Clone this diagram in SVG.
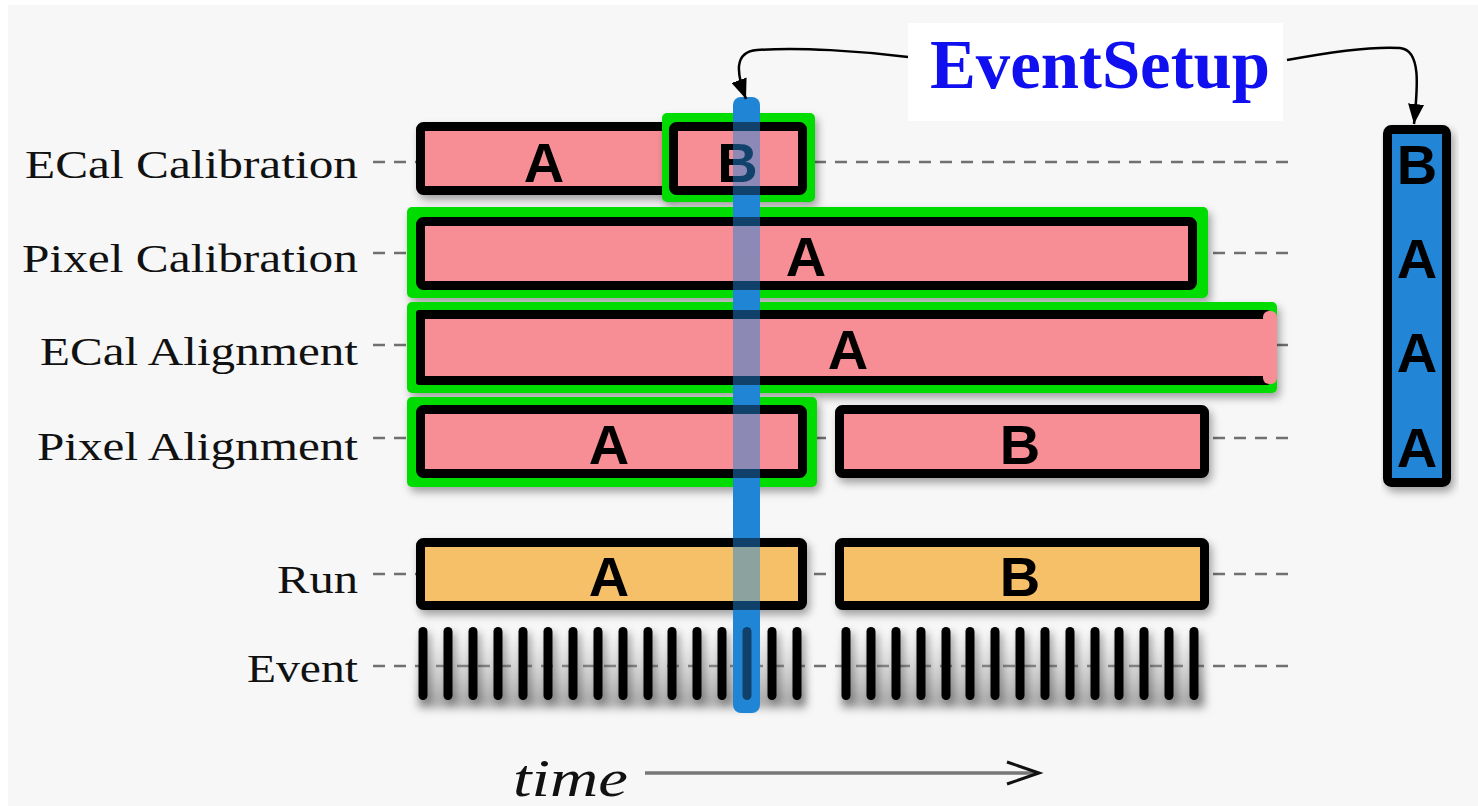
<svg xmlns="http://www.w3.org/2000/svg" xmlns:xlink="http://www.w3.org/1999/xlink" width="1478" height="806" viewBox="0 0 1478 806">
<style>
.lbl{font-family:"Liberation Serif","Times New Roman",serif;font-size:41px;fill:#111;text-anchor:end}
.let{font-family:"Liberation Sans",Arial,sans-serif;font-weight:bold;font-size:56px;fill:#000;text-anchor:middle}
.box{stroke:#000;stroke-width:9}
.pink{fill:#f78e96}
.orange{fill:#f6c069}
.green{fill:#00dc00}
.dash{stroke:#707070;stroke-width:2.5;stroke-dasharray:12 9;fill:none}
.tick{fill:#000}
.arrow{fill:none;stroke:#000;stroke-width:2.5}
</style>
<defs>
<filter id="sh" x="-10%" y="-20%" width="130%" height="160%">
<feDropShadow dx="3" dy="5" stdDeviation="4" flood-color="#000" flood-opacity="0.35"/>
</filter>
<filter id="blur" x="-10%" y="-30%" width="120%" height="160%">
<feGaussianBlur stdDeviation="5"/>
</filter>
<linearGradient id="tickShade" x1="0" y1="0" x2="0" y2="1">
<stop offset="0" stop-color="#b0b0b0" stop-opacity="0"/>
<stop offset="1" stop-color="#9a9a9a" stop-opacity="0.9"/>
</linearGradient>
<clipPath id="barClip"><rect x="733" y="97" width="27" height="616" rx="8"/></clipPath>
<marker id="ah" viewBox="0 0 20 16" refX="20" refY="8" markerUnits="userSpaceOnUse" markerWidth="20" markerHeight="16" orient="auto">
<path d="M0,0 L20,8 L0,16 z" fill="#000"/>
</marker>
</defs>

<rect x="0" y="0" width="1478" height="806" fill="#ffffff"/>
<rect x="8" y="5" width="1470" height="801" fill="#f7f7f7"/>

<g id="guides">
<line class="dash" x1="373" y1="162" x2="1295" y2="162"/>
<line class="dash" x1="373" y1="253" x2="1295" y2="253"/>
<line class="dash" x1="373" y1="345" x2="1293" y2="345"/>
<line class="dash" x1="373" y1="438" x2="1295" y2="438"/>
<line class="dash" x1="373" y1="574" x2="1295" y2="574"/>
<line class="dash" x1="373" y1="666" x2="1295" y2="666"/>
</g>

<g id="labels">
<text class="lbl" x="358" y="178" textLength="333" lengthAdjust="spacingAndGlyphs">ECal Calibration</text>
<text class="lbl" x="358" y="272" textLength="336" lengthAdjust="spacingAndGlyphs">Pixel Calibration</text>
<text class="lbl" x="358" y="365" textLength="318" lengthAdjust="spacingAndGlyphs">ECal Alignment</text>
<text class="lbl" x="358" y="460" textLength="321" lengthAdjust="spacingAndGlyphs">Pixel Alignment</text>
<text class="lbl" x="358" y="593" textLength="81" lengthAdjust="spacingAndGlyphs">Run</text>
<text class="lbl" x="358" y="682" textLength="111" lengthAdjust="spacingAndGlyphs">Event</text>
</g>

<g id="ecal-calib-A" filter="url(#sh)">
<g id="ecA-box"><rect class="box pink" x="420.5" y="126.5" width="250" height="64" rx="3"/>
<text class="let" x="544" y="182">A</text></g>
</g>
<g id="ecal-calib-B" filter="url(#sh)">
<rect class="green" x="662" y="113" width="153" height="89" rx="5"/>
<g id="ecB-box"><rect class="box pink" x="673.5" y="126.5" width="129" height="64" rx="3"/>
<text class="let" x="737.5" y="182">B</text></g>
</g>
<g id="pixel-calib-A" filter="url(#sh)">
<rect class="green" x="407" y="207" width="801" height="91" rx="5"/>
<g id="pcA-box"><rect class="box pink" x="420.5" y="221.5" width="772" height="64" rx="3"/>
<text class="let" x="806" y="276">A</text></g>
</g>
<g id="ecal-align-A" filter="url(#sh)">
<rect class="green" x="407" y="302" width="870" height="91" rx="5"/>
<g id="eaA-box"><rect x="416" y="310" width="854" height="75" rx="3" fill="#000"/>
<rect class="pink" x="425" y="319" width="846" height="57"/>
<rect class="pink" x="1263" y="311" width="14" height="73" rx="6"/>
<text class="let" x="848" y="369">A</text></g>
</g>
<g id="pixel-align-A" filter="url(#sh)">
<rect class="green" x="407" y="397" width="410" height="90" rx="5"/>
<g id="paA-box"><rect class="box pink" x="420.5" y="409.5" width="382" height="64" rx="3"/>
<text class="let" x="609" y="464">A</text></g>
</g>
<g id="pixel-align-B" filter="url(#sh)">
<rect class="box pink" x="839.5" y="409.5" width="365" height="64" rx="3"/>
<text class="let" x="1020" y="464">B</text>
</g>
<g id="run-A" filter="url(#sh)">
<g id="runA-box"><rect class="box orange" x="420.5" y="542.5" width="382" height="63" rx="3"/>
<text class="let" x="609" y="596">A</text></g>
</g>
<g id="run-B" filter="url(#sh)">
<rect class="box orange" x="839.5" y="542.5" width="365" height="63" rx="3"/>
<text class="let" x="1020" y="596">B</text>
</g>

<g id="event-shade" filter="url(#blur)">
<rect x="418" y="636" width="388" height="72" fill="url(#tickShade)"/>
<rect x="841" y="636" width="364" height="72" fill="url(#tickShade)"/>
</g>
<g id="events" filter="url(#sh)">
<rect class="tick" x="418.5" y="627" width="9" height="73" rx="4.5"/>
<rect class="tick" x="443.5" y="627" width="9" height="73" rx="4.5"/>
<rect class="tick" x="468.5" y="627" width="9" height="73" rx="4.5"/>
<rect class="tick" x="493.5" y="627" width="9" height="73" rx="4.5"/>
<rect class="tick" x="518.5" y="627" width="9" height="73" rx="4.5"/>
<rect class="tick" x="543.5" y="627" width="9" height="73" rx="4.5"/>
<rect class="tick" x="568.5" y="627" width="9" height="73" rx="4.5"/>
<rect class="tick" x="593.5" y="627" width="9" height="73" rx="4.5"/>
<rect class="tick" x="618.5" y="627" width="9" height="73" rx="4.5"/>
<rect class="tick" x="643.5" y="627" width="9" height="73" rx="4.5"/>
<rect class="tick" x="667.5" y="627" width="9" height="73" rx="4.5"/>
<rect class="tick" x="692.5" y="627" width="9" height="73" rx="4.5"/>
<rect class="tick" x="717.5" y="627" width="9" height="73" rx="4.5"/>
<rect id="tick-cur" class="tick" x="742.5" y="627" width="9" height="73" rx="4.5"/>
<rect class="tick" x="767.5" y="627" width="9" height="73" rx="4.5"/>
<rect class="tick" x="792.5" y="627" width="9" height="73" rx="4.5"/>
<rect class="tick" x="841.5" y="627" width="9" height="73" rx="4.5"/>
<rect class="tick" x="866.5" y="627" width="9" height="73" rx="4.5"/>
<rect class="tick" x="891.5" y="627" width="9" height="73" rx="4.5"/>
<rect class="tick" x="916.5" y="627" width="9" height="73" rx="4.5"/>
<rect class="tick" x="941.5" y="627" width="9" height="73" rx="4.5"/>
<rect class="tick" x="965.5" y="627" width="9" height="73" rx="4.5"/>
<rect class="tick" x="990.5" y="627" width="9" height="73" rx="4.5"/>
<rect class="tick" x="1015.5" y="627" width="9" height="73" rx="4.5"/>
<rect class="tick" x="1040.5" y="627" width="9" height="73" rx="4.5"/>
<rect class="tick" x="1065.5" y="627" width="9" height="73" rx="4.5"/>
<rect class="tick" x="1090.5" y="627" width="9" height="73" rx="4.5"/>
<rect class="tick" x="1114.5" y="627" width="9" height="73" rx="4.5"/>
<rect class="tick" x="1139.5" y="627" width="9" height="73" rx="4.5"/>
<rect class="tick" x="1164.5" y="627" width="9" height="73" rx="4.5"/>
<rect class="tick" x="1189.5" y="627" width="9" height="73" rx="4.5"/>
</g>

<g id="current-time">
<rect x="733" y="97" width="27" height="616" rx="8" fill="#2185d6"/>
<g clip-path="url(#barClip)" opacity="0.5">
<use xlink:href="#ecB-box"/>
<use xlink:href="#pcA-box"/>
<use xlink:href="#eaA-box"/>
<use xlink:href="#paA-box"/>
<use xlink:href="#runA-box"/>
<use xlink:href="#tick-cur"/>
</g>
</g>

<g id="eventsetup">
<rect x="908" y="23" width="375" height="98" fill="#ffffff"/>
<text x="930" y="88" textLength="340" lengthAdjust="spacingAndGlyphs" style="font-family:'Liberation Serif','Times New Roman',serif;font-weight:bold;font-size:70px;fill:#0f0ff0">EventSetup</text>
</g>

<g id="es-record" filter="url(#sh)">
<rect x="1387.5" y="129.5" width="59" height="353" rx="4" fill="#2185d6" stroke="#000" stroke-width="9"/>
<text class="let" x="1417" y="184">B</text>
<text class="let" x="1417" y="278">A</text>
<text class="let" x="1417" y="372">A</text>
<text class="let" x="1417" y="467">A</text>
</g>

<g id="connectors">
<path class="arrow" d="M908,57 C860,51 800,47 757,50 C734,52 736,72 746,99" marker-end="url(#ah)"/>
<path class="arrow" d="M1287,60 C1330,52 1370,46 1400,48 C1421,50 1418,85 1414,124" marker-end="url(#ah)"/>
</g>

<g id="time-axis">
<text x="513" y="796" textLength="115" lengthAdjust="spacingAndGlyphs" style="font-family:'Liberation Serif','Times New Roman',serif;font-style:italic;font-size:52px;fill:#111">time</text>
<line x1="645" y1="773" x2="1036" y2="773" stroke="#777" stroke-width="3.5"/>
<path d="M1007,762 L1039,773 L1007,784" fill="none" stroke="#111" stroke-width="3"/>
</g>
</svg>
